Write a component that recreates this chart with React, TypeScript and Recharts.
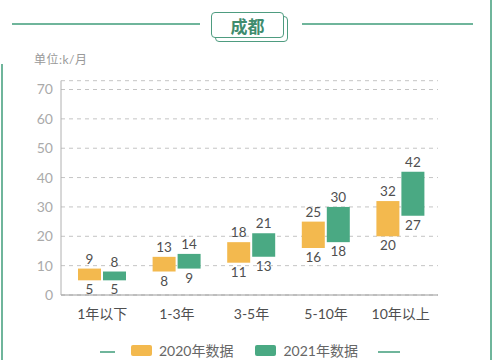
import React from 'react';
import { BarChart, Bar, XAxis, YAxis, CartesianGrid, LabelList } from 'recharts';

const categories = ['1年以下', '1-3年', '3-5年', '5-10年', '10年以上'];
const low2020 = [5, 8, 11, 16, 20];
const high2020 = [9, 13, 18, 25, 32];
const low2021 = [5, 9, 13, 18, 27];
const high2021 = [8, 14, 21, 30, 42];
const yTicks = [0, 10, 20, 30, 40, 50, 60, 70];

const ORANGE = '#f3b94e';
const GREEN = '#4aa983';
const LINE_GREEN = '#6fb59b';
const FONT = "Lato, 'Noto Sans CJK SC', sans-serif";

const data = categories.map((name, i) => ({
  name,
  y2020: [low2020[i], high2020[i]],
  y2021: [low2021[i], high2021[i]],
}));

// draws the top (high) and bottom (low) value of a floating bar
const makeRangeLabel = (lows: number[], highs: number[]) => (props: any) => {
  const { x, y, width, height, index } = props;
  const top = Math.min(y, y + height);
  const bottom = Math.max(y, y + height);
  const cx = x + width / 2;
  return (
    <g>
      <text x={cx} y={top - 5} textAnchor="middle" fill="#4f4f4f" fontSize={13.5} fontFamily={FONT}>
        {highs[index]}
      </text>
      <text x={cx} y={bottom + 14} textAnchor="middle" fill="#4f4f4f" fontSize={13.5} fontFamily={FONT}>
        {lows[index]}
      </text>
    </g>
  );
};

const LegendItem = ({ color, label }: { color: string; label: string }) => (
  <div style={{ display: 'flex', alignItems: 'center', gap: 7 }}>
    <div style={{ width: 21, height: 11, background: color, borderRadius: 2 }} />
    <span style={{ fontSize: 14, color: '#666', fontFamily: FONT }}>{label}</span>
  </div>
);

export default function App() {
  return (
    <div style={{ position: 'absolute', left: 0, top: 0, width: 500, height: 360, background: '#fff', overflow: 'hidden', fontFamily: FONT }}>
      {/* card borders */}
      <div style={{ position: 'absolute', left: 1, top: 64, width: 2, height: 300, background: LINE_GREEN }} />
      <div style={{ position: 'absolute', left: 490, top: 0, width: 2, height: 360, background: LINE_GREEN }} />

      {/* title */}
      <div style={{ position: 'absolute', left: 12, top: 23, width: 188, height: 2, background: LINE_GREEN }} />
      <div style={{ position: 'absolute', left: 302, top: 23, width: 171, height: 2, background: LINE_GREEN }} />
      <div style={{ position: 'absolute', left: 215, top: 16, width: 71, height: 24, border: '1.5px solid #4e9c80', borderRadius: 4, background: '#fff' }} />
      <div style={{ position: 'absolute', left: 211, top: 12, width: 71, height: 24, border: '1.5px solid #4e9c80', borderRadius: 4, background: '#fff', display: 'flex', alignItems: 'center', justifyContent: 'center', fontSize: 17, fontWeight: 700, color: '#3f8c6e' }}>
        成都
      </div>
      <div style={{ position: 'absolute', left: 34, top: 50, fontSize: 12, color: '#999', letterSpacing: 0.5 }}>单位:k/月</div>

      <div style={{ position: 'absolute', left: 0, top: 0 }}>
        <BarChart width={500} height={360} data={data} margin={{ top: 80.7, right: 62, bottom: 35, left: 0 }} barSize={23} barGap={2}>
          <CartesianGrid vertical={false} stroke="#c4c4c4" strokeDasharray="4 4" />
          <XAxis
            dataKey="name"
            height={30}
            padding={{ left: 4, right: 0 }}
            axisLine={{ stroke: '#9a9a9a' }}
            tickLine={false}
            tick={{ fill: '#4f4f4f', fontSize: 14, fontFamily: FONT }}
            tickMargin={8}
          />
          <YAxis
            width={61}
            domain={[0, 73]}
            ticks={yTicks}
            axisLine={{ stroke: '#b0b0b0' }}
            tickLine={false}
            tick={{ fill: '#aaa', fontSize: 14, fontFamily: FONT }}
          />
          <Bar dataKey="y2020" fill={ORANGE} isAnimationActive={false}>
            <LabelList dataKey="y2020" content={makeRangeLabel(low2020, high2020)} />
          </Bar>
          <Bar dataKey="y2021" fill={GREEN} isAnimationActive={false}>
            <LabelList dataKey="y2021" content={makeRangeLabel(low2021, high2021)} />
          </Bar>
        </BarChart>
      </div>

      {/* legend */}
      <div style={{ position: 'absolute', left: 100, top: 351, width: 15, height: 1.5, background: LINE_GREEN }} />
      <div style={{ position: 'absolute', left: 378, top: 351, width: 22, height: 1.5, background: LINE_GREEN }} />
      <div style={{ position: 'absolute', left: 131, top: 340, display: 'flex', gap: 22 }}>
        <LegendItem color={ORANGE} label="2020年数据" />
        <LegendItem color={GREEN} label="2021年数据" />
      </div>
    </div>
  );
}
